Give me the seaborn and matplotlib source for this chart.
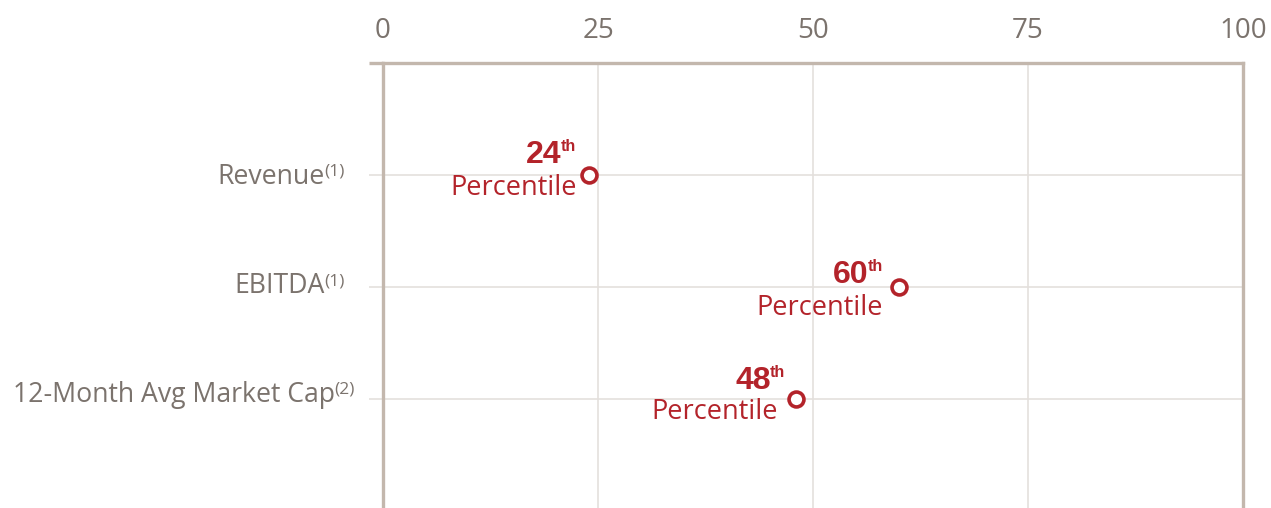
import matplotlib
matplotlib.use("Agg")
import matplotlib.pyplot as plt
import seaborn as sns
import pandas as pd

# ---- data ----
metrics = ["Revenue", "EBITDA", "12-Month Avg Market Cap"]
footnotes = ["(1)", "(1)", "(2)"]
percentiles = [24, 60, 48]
x_ticks = [0, 25, 50, 75, 100]

# ---- style ----
RED = "#b3232a"
TEXT_GREY = "#7b736d"
SPINE = "#c3b7ad"
GRID = "#e4e0dd"

sns.set_theme(style="white")
plt.rcParams["font.family"] = ["Open Sans", "DejaVu Sans"]

W, H, DPI = 1271, 508, 100
fig = plt.figure(figsize=(W / DPI, H / DPI), dpi=DPI)
# axes frame: x from 0 to 100, rows centred on 0, 1, 2
ax_left, ax_right, ax_top, ax_bottom = 383, 1243, 63, 511
ax = fig.add_axes([ax_left / W, (H - ax_bottom) / H,
                   (ax_right - ax_left) / W, (ax_bottom - ax_top) / H])

df = pd.DataFrame({"metric": metrics, "percentile": percentiles})
df["row"] = range(len(df))

sns.scatterplot(data=df, x="percentile", y="row", ax=ax, s=115, marker="o",
                facecolor="white", edgecolor=RED, linewidth=2.6, zorder=5,
                clip_on=False, legend=False)

ax.set_xlim(0, 100)
ax.set_ylim(3, -1)

# x axis on top
ax.xaxis.tick_top()
ax.set_xticks(x_ticks)
ax.set_xticklabels([str(t) for t in x_ticks])
ax.tick_params(axis="x", top=False, bottom=False, length=0, pad=13,
               labelsize=20, labelcolor=TEXT_GREY)
ax.set_xlabel("")
ax.set_ylabel("")

# y rows: short ticks in grid colour, labels drawn by hand
ax.set_yticks(range(len(metrics)))
ax.set_yticklabels([])
ax.tick_params(axis="y", left=True, length=10, width=1.2, color=GRID)

# grid
for t in x_ticks[1:-1]:
    ax.axvline(t, color=GRID, lw=1.2, zorder=0)
for i in range(len(metrics)):
    ax.axhline(i, color=GRID, lw=1.2, zorder=0)

# frame
for side in ["top", "left", "right"]:
    ax.spines[side].set_color(SPINE)
    ax.spines[side].set_linewidth(2.4)
ax.spines["bottom"].set_color(GRID)
ax.spines["bottom"].set_linewidth(1.0)
# top rule runs out past the left edge
ax.plot([-1.65, 0], [-1, -1], color=SPINE, lw=2.4, clip_on=False,
        solid_capstyle="butt", zorder=6)

# row labels with superscript footnote markers
label_layout = [(-58, -9), (-58, -6), (-48, -3)]  # (right edge px, baseline px)
fig.canvas.draw()
for i, (name, note) in enumerate(zip(metrics, footnotes)):
    dx, dy = label_layout[i]
    main = ax.annotate(name, xy=(0, i), xytext=(dx, dy),
                       textcoords="offset pixels", ha="right", va="baseline",
                       fontsize=19.2, color=TEXT_GREY, annotation_clip=False)
    # footnote marker sits right after the label, top aligned with the caps
    fig.canvas.draw()
    bb = main.get_window_extent()
    base_px = ax.transData.transform((0, i))
    ax.annotate(note, xy=(0, i), xytext=(bb.x1 - base_px[0] - 1, dy + 20),
                textcoords="offset pixels", ha="left", va="top",
                fontsize=12.5, color=TEXT_GREY, annotation_clip=False)

# value annotations: (Percentile dx, dy, number dx, dy) in pixels
note_layout = [(-13, -20, -28, 12), (-16, -28, -30, 4), (-18, -20, -25, 10)]
for i, p in enumerate(percentiles):
    pdx, pdy, ndx, ndy = note_layout[i]
    ax.annotate("Percentile", xy=(p, i), xytext=(pdx, pdy),
                textcoords="offset pixels", ha="right", va="baseline",
                fontsize=19.5, color=RED, annotation_clip=False)
    ax.annotate(str(p), xy=(p, i), xytext=(ndx, ndy),
                textcoords="offset pixels", ha="right", va="baseline",
                fontsize=23, fontweight="bold", color=RED,
                family=["Liberation Sans", "DejaVu Sans"], annotation_clip=False)
    ax.annotate("th", xy=(p, i), xytext=(ndx - 1, ndy + 12),
                textcoords="offset pixels", ha="left", va="baseline",
                fontsize=11.5, fontweight="bold", color=RED,
                family=["Liberation Sans", "DejaVu Sans"], annotation_clip=False)

fig.savefig("out.png", dpi=DPI)
